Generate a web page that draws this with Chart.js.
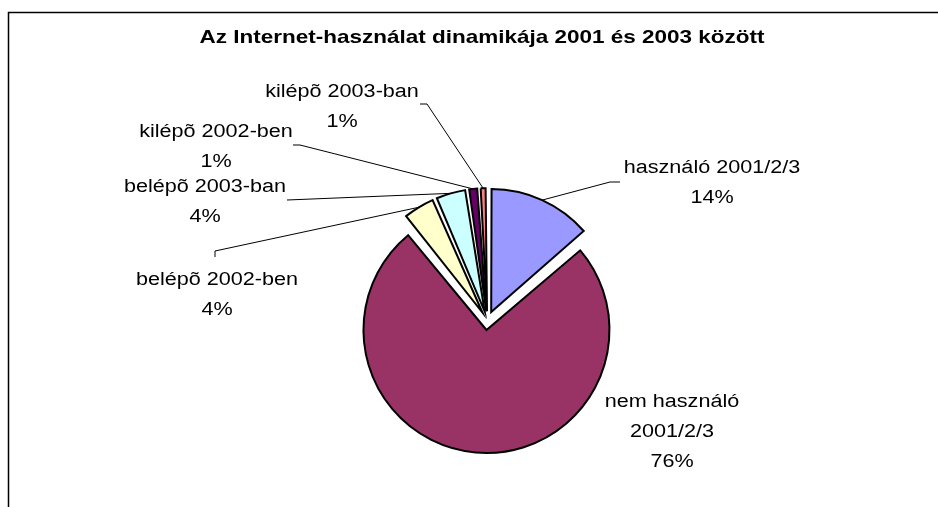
<!DOCTYPE html>
<html>
<head>
<meta charset="utf-8">
<script src="https://cdn.jsdelivr.net/npm/chart.js@4"></script>
<style>
  body { margin: 0; background: #fff; }
  canvas { display: block; }
</style>
</head>
<body>
<canvas id="dinamika" width="938" height="507"></canvas>
<script>
// chart data
var title = 'Az Internet-használat dinamikája 2001 és 2003 között';
var labels = ['használó 2001/2/3', 'nem használó 2001/2/3', 'belépõ 2002-ben', 'belépõ 2003-ban', 'kilépõ 2002-ben', 'kilépõ 2003-ban'];
var labelLines = [['használó 2001/2/3'], ['nem használó', '2001/2/3'], ['belépõ 2002-ben'], ['belépõ 2003-ban'], ['kilépõ 2002-ben'], ['kilépõ 2003-ban']];
var shares = [13.6, 75.6, 4.3, 4.1, 1.4, 1.0];
var colors = ['#9999FF', '#993366', '#FFFFCC', '#CCFFFF', '#660066', '#FF8080'];

// where each label sits (centre x, first baseline) and where its leader line starts
var labelPos = [
	{ x: 712, y: 173, hook: [[620, 182], [610, 182]] },
	{ x: 672, y: 407, hook: null },
	{ x: 217, y: 285, hook: [[215, 257], [215, 251]] },
	{ x: 205, y: 192, hook: [[287, 200]] },
	{ x: 216, y: 137, hook: [[293, 145], [300, 145]] },
	{ x: 342, y: 97, hook: [[420, 104], [427, 104]] }
];

var FONT = "'Liberation Sans', Arial, sans-serif";
var RADIUS = 123;
var EXPLODE = 9.4; // px each slice is pulled out

function stretchText(ctx, text, x, y, sx) {
	ctx.save();
	ctx.translate(x, y);
	ctx.scale(sx, 1);
	ctx.fillText(text, 0, 0);
	ctx.restore();
}

var pieLabels = {
	id: 'pieLabels',
	beforeDraw: function(chart) {
		var ctx = chart.ctx;
		ctx.save();
		ctx.fillStyle = '#fff';
		ctx.fillRect(0, 0, chart.width, chart.height);
		ctx.strokeStyle = '#000';
		ctx.lineWidth = 1.5;
		ctx.strokeRect(8.5, 12.5, 960, 520);
		ctx.restore();
	},
	beforeDatasetsDraw: function(chart) {
		// chart.js grows the radius of an offset arc, keep all slices the same size
		var meta = chart.getDatasetMeta(0);
		meta.data.forEach(function(arc) {
			var circ = arc.endAngle - arc.startAngle;
			var fix = 1 - Math.sin(Math.min(Math.PI, circ));
			arc.outerRadius = RADIUS - EXPLODE * fix;
		});
	},
	afterDatasetsDraw: function(chart) {
		var ctx = chart.ctx;
		var meta = chart.getDatasetMeta(0);
		var data = chart.data.datasets[0].data;
		var total = data.reduce(function(a, b) { return a + b; }, 0);
		ctx.save();
		ctx.fillStyle = '#000';
		ctx.textAlign = 'center';
		ctx.textBaseline = 'alphabetic';

		ctx.font = 'bold 18.6px ' + FONT;
		stretchText(ctx, title, 482, 43, 1.21);

		ctx.font = '18px ' + FONT;
		ctx.strokeStyle = '#000';
		ctx.lineWidth = 1;
		for (var i = 0; i < meta.data.length; i++) {
			var arc = meta.data[i];
			var p = labelPos[i];
			var lines = labelLines[i].concat([Math.round(data[i] / total * 100) + '%']);
			for (var j = 0; j < lines.length; j++) {
				stretchText(ctx, lines[j], p.x, p.y + j * 30, 1.2);
			}
			if (p.hook) {
				var mid = (arc.startAngle + arc.endAngle) / 2;
				var r = RADIUS + EXPLODE;
				ctx.beginPath();
				ctx.moveTo(p.hook[0][0], p.hook[0][1]);
				for (var k = 1; k < p.hook.length; k++) ctx.lineTo(p.hook[k][0], p.hook[k][1]);
				ctx.lineTo(arc.x + Math.cos(mid) * r, arc.y + Math.sin(mid) * r);
				ctx.stroke();
			}
		}
		ctx.restore();
	}
};

var ctxD = document.getElementById('dinamika').getContext('2d');
var myPie = new Chart(ctxD, {
	type: 'pie',
	data: {
		labels: labels,
		datasets: [{
			data: shares,
			backgroundColor: colors,
			borderColor: '#000',
			borderWidth: 2,
			borderJoinStyle: 'miter',
			offset: EXPLODE * 4,
			radius: RADIUS,
			clip: false
		}]
	},
	options: {
		responsive: false,
		animation: false,
		layout: { padding: { left: 100, right: 63.4, top: 180, bottom: 45.8 } },
		plugins: {
			legend: { display: false },
			tooltip: { enabled: false },
			title: { display: false }
		}
	},
	plugins: [pieLabels]
});
</script>
</body>
</html>
